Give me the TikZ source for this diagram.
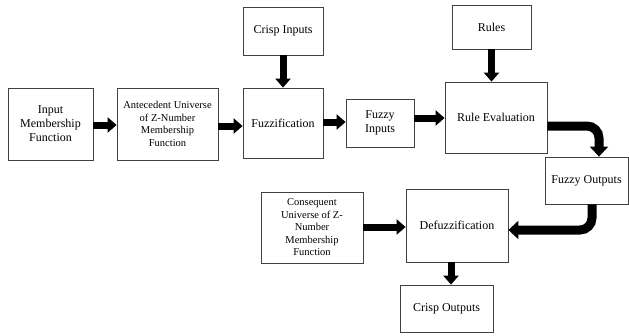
\documentclass[tikz,border=0pt]{standalone}
\usepackage{fontspec}
\setmainfont{Liberation Serif}
\usetikzlibrary{arrows.meta,calc}
\begin{document}
\begin{tikzpicture}[x=1pt,y=-1pt,
 box/.style={draw=black!75,line width=0.8pt,align=center,inner sep=2pt,font=\fontsize{12}{14}\selectfont},
 smallbox/.style={box,font=\fontsize{10.5}{12.5}\selectfont},
 bigarrow/.style={line width=7pt,-{Triangle[length=9pt,width=15pt]}},
 curvearrow/.style={line width=9pt,-{Triangle[length=10pt,width=18pt]},rounded corners=12pt}]
\useasboundingbox (0,0) rectangle (629,335);

\node[box,minimum width=85pt,minimum height=72pt] (inmf) at (50.5,124) {Input\\Membership\\Function};
\node[smallbox,minimum width=101pt,minimum height=72pt] (ante) at (167.5,124) {Antecedent Universe\\of Z-Number\\Membership\\Function};
\node[box,minimum width=80pt,minimum height=48pt] (crispin) at (283,31) {Crisp Inputs};
\node[box,minimum width=80pt,minimum height=70pt] (fuzz) at (283,123) {Fuzzification};
\node[box,minimum width=68pt,minimum height=48pt] (fuzzin) at (380,123) {Fuzzy\\Inputs};
\node[box,minimum width=79pt,minimum height=44pt] (rules) at (491.5,27) {Rules};
\node[box,minimum width=102pt,minimum height=71pt] (ruleev) at (496,117.5) {Rule Evaluation};
\node[box,minimum width=83pt,minimum height=47pt] (fuzzout) at (586.5,180.5) {Fuzzy Outputs};
\node[box,minimum width=102pt,minimum height=73pt] (defuzz) at (457,225.5) {Defuzzification};
\node[smallbox,minimum width=102pt,minimum height=71pt] (cons) at (312,227.5) {Consequent\\Universe of Z-\\Number\\Membership\\Function};
\node[box,minimum width=93pt,minimum height=47pt] (crispout) at (446.5,308.5) {Crisp Outputs};

\coordinate (fi) at ($(fuzzin.east)+(0,-5)$);
\coordinate (dc) at ($(defuzz.south)+(-6,0)$);

\draw[bigarrow] ($(inmf.east)+(0,1)$) -- ($(ante.west)+(0,1)$);
\draw[bigarrow] ($(ante.east)+(0,2)$) -- ($(fuzz.west)+(0,3)$);
\draw[bigarrow] (crispin.south) -- (fuzz.north);
\draw[bigarrow] ($(fuzz.east)+(0,-1)$) -- ($(fuzzin.west)+(0,-1)$);
\draw[bigarrow] (fi) -- (ruleev.west |- fi);
\draw[bigarrow] (rules.south) -- (rules.south |- ruleev.north);
\draw[bigarrow] (dc) -- (dc |- crispout.north);
\draw[bigarrow] ($(cons.east)+(0,-0.5)$) -- ($(defuzz.west)+(0,1.5)$);
\draw[curvearrow] ($(ruleev.east)+(0,8.5)$) -| ($(fuzzout.north)+(12.5,0)$);
\draw[curvearrow] ($(fuzzout.south)+(5.5,0)$) |- ($(defuzz.east)+(0,4.5)$);
\end{tikzpicture}
\end{document}
